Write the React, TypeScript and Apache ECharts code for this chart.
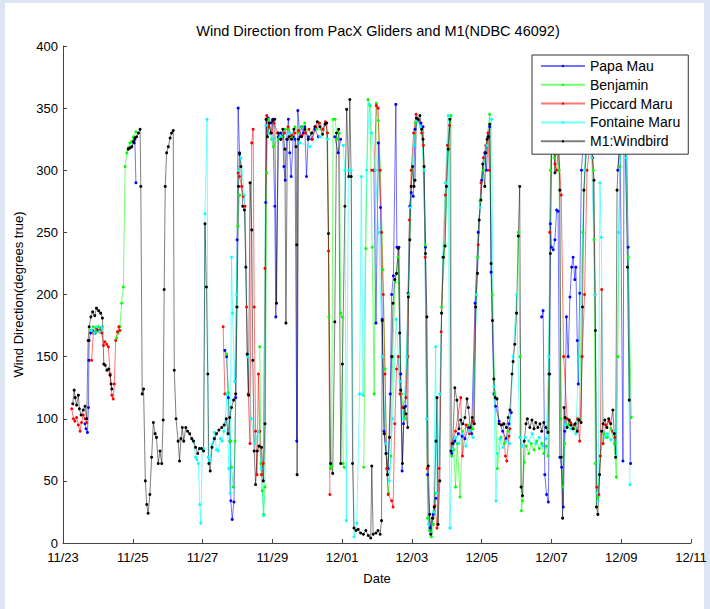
import React, { useEffect, useRef } from "react";
import * as echarts from "echarts";

// x = days since 11/23 00:00, y = wind direction (degrees true); null = gap
const xTickLabels = ["11/23", "11/25", "11/27", "11/29", "12/01", "12/03", "12/05", "12/07", "12/09", "12/11"];
const seriesNames = ["Papa Mau", "Benjamin", "Piccard Maru", "Fontaine Maru", "M1:Windbird"];
const seriesColors = ["#0000ff", "#00ff00", "#ff0000", "#00ffff", "#000000"];

type P = [number, number] | null;

const papaMau: P[] = [
  [0.63,96],[0.66,92],[0.70,89],[0.73,109],[0.74,147],[0.75,163],[0.79,169],[0.85,171],[0.92,169],[0.98,171],[1.04,170],[1.09,173], null,
  [2.04,322],[2.06,325],[2.09,290], null,
  [4.64,155],[4.69,150],[4.74,117],[4.79,82],[4.81,34],[4.85,19],[4.90,33],[4.95,117],[4.99,244],[5.02,350],[5.06,314], null,
  [5.81,274],[5.84,341],[5.88,342],[5.96,338],[6.01,341],[6.07,271],[6.10,182],[6.17,327],[6.24,330],[6.30,327],[6.33,303],[6.37,292],[6.41,325],[6.46,341],[6.50,314],[6.54,295],[6.60,327],[6.65,325],[6.70,82],[6.73,348],[6.79,327],[6.84,335],[6.89,330],[6.93,335],[6.98,295],[7.03,327],[7.13,325],[7.22,333],[7.32,327], null,
  [7.79,327],[7.89,314],[7.96,325], null,
  [8.91,300],[8.97,177],[9.04,322],[9.10,270],[9.15,180],[9.20,90],[9.26,72],[9.32,60],[9.38,120],[9.42,200],[9.47,215],[9.54,353],[9.57,238],[9.63,238],[9.68,136],[9.72,58],[9.76,96],[9.82,110],[9.89,201],[9.94,271],[9.98,282],[10.04,279],[10.09,333],[10.16,341],[10.26,338],[10.32,335],[10.39,238],[10.45,55],[10.52,12],[10.61,23],[10.69,36], null,
  [11.14,72],[11.23,82],[11.33,88],[11.44,86],[11.52,84],[11.62,93],[11.71,88],[11.81,193],[11.90,250],[12.00,292],[12.09,314],[12.14,300],[12.18,327],[12.23,335],[12.27,218],[12.35,120],[12.40,110],[12.50,98],[12.60,90],[12.70,84],[12.78,96],[12.85,105], null,
  [13.72,182],[13.76,187],[13.81,55],[13.86,39],[13.91,33],[13.95,136],[13.97,257],[14.00,238],[14.05,236],[14.10,244],[14.15,268],[14.19,267],[14.24,69],[14.29,61],[14.34,29],[14.38,90],[14.43,182],[14.48,150],[14.53,198],[14.58,222],[14.62,230],[14.67,212],[14.70,222],[14.74,163],[14.77,128],[14.81,201],[14.86,300],[14.93,330], null,
  [15.90,300],[15.97,320],[16.05,66],[16.08,320],[16.15,330],[16.20,238],[16.27,64],
];

const benjamin: P[] = [
  [0.79,171],[0.87,174],[0.95,170],[1.01,174],[1.08,171],[1.13,174], null,
  [1.54,165],[1.58,169],[1.63,174],[1.68,193],[1.73,206],[1.78,303],[1.83,314],[1.87,318],[1.92,322],[1.97,323],[2.02,327],[2.09,331], null,
  [4.69,152],[4.74,121],[4.79,82],[4.83,61],[4.88,45],[4.93,82],[4.97,190],[5.01,255],[5.06,280], null,
  [5.64,158],[5.67,64],[5.71,42],[5.75,23],[5.79,45],[5.84,298],[5.88,341],[5.98,325],[6.03,319],[6.17,325],[6.27,327],[6.36,333],[6.46,333],[6.55,327],[6.65,335],[6.75,330],[6.84,335],[6.93,338],[7.03,325],[7.13,330],[7.27,333],[7.44,333],[7.58,330],[7.62,182],[7.66,60],[7.70,62],[7.74,341],[7.80,341],[7.86,325],[7.92,330],[7.96,185],[8.00,182],[8.03,64],[8.06,61], null,
  [8.62,61],[8.68,237],[8.74,357],[8.80,352],[8.86,238],[8.92,120],[8.98,354],[9.04,340],[9.10,300],[9.17,220],[9.23,140],[9.28,60],[9.33,40],[9.40,70],[9.45,150],[9.52,210],[9.60,230],[9.70,120],[9.80,100],[9.90,200],[10.00,300],[10.10,338],[10.20,340],[10.30,330],[10.38,240],[10.45,20],[10.50,10],[10.56,5],[10.62,15],[10.68,40], null,
  [10.85,190],[10.95,240],[11.05,320],[11.12,344],[11.14,70],[11.20,75],[11.25,45],[11.30,80],[11.38,37],[11.45,90],[11.60,95],[11.75,92],[11.88,230],[11.95,275],[12.05,300],[12.15,325],[12.23,345],[12.30,200],[12.38,120],[12.45,60],[12.55,85],[12.65,80],[12.75,90], null,
  [13.05,250],[13.10,150],[13.14,26],[13.17,34],[13.22,65],[13.28,78],[13.35,72],[13.42,80],[13.50,75],[13.58,82],[13.65,76],[13.72,80],[13.78,72],[13.85,78],[13.90,70],[13.97,300],[14.02,330],[14.08,310],[14.15,315],[14.22,300],[14.27,100],[14.32,45],[14.38,80],[14.45,100],[14.50,95],[14.65,92],[14.80,100],[14.90,250],[14.98,320],[15.10,325],[15.20,300],[15.22,244],[15.26,64],[15.29,29],[15.33,37],[15.40,70],[15.50,88],[15.60,85],[15.70,92],[15.80,80],[15.86,53],[15.90,150],[15.96,303],[16.02,320],[16.10,325],[16.20,230],[16.29,101],
];

const piccardMaru: P[] = [
  [0.25,108],[0.30,100],[0.34,98],[0.39,101],[0.44,95],[0.49,90],[0.53,97],[0.58,103],[0.63,100],[0.68,97], null,
  [0.82,147],[0.87,169],[0.96,173],[1.04,171],[1.11,169],[1.16,159],[1.20,162],[1.25,160],[1.30,158],[1.35,136],[1.40,119],[1.44,116],[1.47,128],[1.51,163],[1.56,170],[1.60,174],[1.63,171], null,
  [4.59,174],[4.64,120], null,
  [5.02,298],[5.06,295],[5.12,287],[5.17,279],[5.22,271],[5.26,190],[5.31,120],[5.36,80],[5.41,322],[5.45,333],[5.48,190],[5.52,90],[5.56,55],[5.60,136],[5.64,90],[5.69,55],[5.74,64],[5.79,221],[5.84,344],[5.90,335],[5.98,330],[6.05,338],[6.15,330],[6.25,325],[6.35,330],[6.45,335],[6.55,328],[6.65,330],[6.75,332],[6.85,328],[6.95,330],[7.05,333],[7.15,325],[7.25,335],[7.35,338],[7.45,333],[7.52,339],[7.58,330],[7.61,235],[7.65,39], null,
  [8.85,300],[8.92,300],[8.98,352],[9.03,350],[9.08,300],[9.13,250],[9.18,200],[9.23,136],[9.28,60],[9.32,39],[9.42,34],[9.46,29],[9.51,96],[9.56,140],[9.61,150],[9.66,120],[9.73,109],[9.83,117],[9.88,150],[9.93,260],[9.98,300],[10.05,330],[10.12,345],[10.20,340],[10.28,330],[10.33,320],[10.38,230],[10.44,60],[10.49,15],[10.55,8],[10.60,20],[10.66,30],[10.72,12],[10.78,60],[10.84,170],[10.90,230],[10.96,280],[11.02,320],[11.08,336], null,
  [11.15,80],[11.25,90],[11.40,117],[11.45,70],[11.55,95],[11.65,88],[11.75,98],[11.82,190],[11.90,240],[11.98,290],[12.05,310],[12.12,320],[12.18,330],[12.22,300], null,
  [12.62,96],[12.68,70],[12.72,66],[12.78,86],[12.81,92], null,
  [13.95,250],[14.00,320],[14.05,338],[14.10,305],[14.15,300],[14.20,320],[14.28,280],[14.35,150],[14.45,100],[14.55,97],[14.65,95],[14.75,100],[14.81,82],[14.88,150],[14.95,200],[15.02,300],[15.10,320],[15.18,310],[15.25,200],[15.30,45],[15.36,39],[15.40,70],[15.44,204],[15.48,80],[15.55,95],[15.65,98],[15.75,90],[15.82,85],
];

const fontaineMaru: P[] = [
  [0.82,171],[0.89,169],[0.96,174],[1.04,170],[1.11,173], null,
  [3.74,82],[3.80,69],[3.84,67],[3.88,64],[3.92,31],[3.95,16],[3.99,75],[4.03,76],[4.07,265],[4.13,341],[4.16,69],[4.20,66],[4.27,79],[4.34,89],[4.40,75],[4.45,74],[4.51,84],[4.56,82],[4.61,90],[4.64,96],[4.70,120],[4.75,60],[4.79,40],[4.83,230],[4.86,185],[4.92,130],[4.97,200],[5.03,300],[5.10,310],[5.20,280],[5.30,150],[5.40,100],[5.50,80],[5.60,90],[5.68,60],[5.75,22],[5.81,336],[5.90,330],[6.00,325],[6.22,327],[6.50,330],[6.79,322],[7.08,319],[7.36,327],[7.58,325], null,
  [8.03,320],[8.08,300],[8.12,18],[8.18,300],[8.26,300],[8.34,5],[8.42,16],[8.50,120],[8.55,295],[8.60,119],[8.70,300],[8.78,353],[8.85,330],[8.95,300],[9.05,250],[9.15,150],[9.25,80],[9.35,50],[9.45,100],[9.55,180],[9.65,130],[9.75,100],[9.85,150],[9.95,270],[10.05,320],[10.15,340],[10.25,335],[10.35,300],[10.42,100],[10.48,15],[10.55,8],[10.62,25],[10.68,158],[10.72,40],[10.80,120],[10.88,230],[10.96,290],[11.04,344],[11.09,12],[11.15,75],[11.25,85],[11.35,80],[11.45,88],[11.55,78],[11.65,90],[11.75,85],[11.85,200],[11.95,270],[12.05,305],[12.15,320],[12.28,341],[12.35,126],[12.41,34],[12.45,72],[12.52,84],[12.61,77],[12.70,82],[12.80,80],[12.90,150],[13.00,200],[13.09,85],[13.15,78],[13.25,85],[13.35,82],[13.45,88],[13.55,80],[13.65,85],[13.75,78],[13.85,84],[13.92,150],[14.00,320], null,
  [14.40,95],[14.55,92],[14.70,88],[14.78,150],[14.95,300],[15.05,320],[15.15,310],[15.25,200],[15.30,40],[15.34,34],[15.39,290],[15.43,246],[15.48,90],[15.53,85],[15.60,88],[15.70,83],[15.80,90],[15.86,70],[15.92,250],[15.98,320],[16.05,330],[16.15,310],[16.25,47],
];

const windbird: P[] = [
  [0.28,112],[0.32,123],[0.35,117],[0.39,111],[0.44,119],[0.47,108],[0.52,103],[0.58,107],[0.63,110],[0.68,100],[0.72,163],[0.75,174],[0.80,182],[0.85,186],[0.91,183],[0.96,189],[1.02,187],[1.08,185],[1.13,181],[1.17,144],[1.21,143],[1.26,139],[1.31,140],[1.35,135],[1.38,128],[1.40,124], null,
  [1.87,317],[1.92,318],[1.97,319],[2.02,323],[2.06,326],[2.11,327],[2.16,330],[2.21,333],[2.23,287],[2.27,120],[2.31,124],[2.36,50],[2.40,31],[2.44,24],[2.49,39],[2.54,69],[2.59,97],[2.64,88],[2.68,85],[2.73,64],[2.78,74],[2.83,64],[2.87,99],[2.90,204],[2.93,287],[2.97,314],[3.02,319],[3.07,326],[3.11,330],[3.16,332],[3.19,139],[3.24,100],[3.30,82],[3.34,66],[3.38,84],[3.42,93],[3.46,82],[3.52,93],[3.57,90],[3.63,88],[3.69,84],[3.74,82],[3.80,77],[3.86,72],[3.91,76],[3.97,76],[4.03,74],[4.07,257],[4.11,206],[4.15,136],[4.18,64],[4.22,58],[4.27,77],[4.34,84],[4.40,88],[4.47,91],[4.55,93],[4.62,95],[4.68,100],[4.73,88],[4.78,101],[4.83,109],[4.89,115],[4.95,120],[4.99,190],[5.03,287],[5.06,313],[5.10,303],[5.15,271],[5.20,268],[5.24,222],[5.28,152],[5.32,119],[5.36,290],[5.41,252],[5.44,147],[5.48,74],[5.52,47],[5.57,74],[5.62,78],[5.69,77],[5.74,50],[5.79,96],[5.82,341],[5.86,327],[5.91,338],[5.96,330],[6.01,340],[6.07,341],[6.12,193],[6.17,330],[6.24,325],[6.30,333],[6.36,317],[6.39,177],[6.43,325],[6.48,327],[6.55,325],[6.62,333],[6.68,319],[6.70,240],[6.71,55],[6.75,325],[6.84,327],[6.93,333],[7.03,325],[7.13,330],[7.22,335],[7.29,339],[7.36,335],[7.44,329],[7.51,337],[7.56,338],[7.61,249],[7.67,64],[7.73,56],[7.79,178],[7.84,330],[7.90,333],[7.96,64],[8.01,144],[8.08,271],[8.13,349],[8.19,295],[8.22,357],[8.26,295],[8.30,64],[8.34,12],[8.40,10],[8.46,11],[8.53,8],[8.61,7],[8.68,10],[8.75,6],[8.82,4],[8.85,62],[8.89,7],[8.97,8],[9.03,10],[9.09,7],[9.13,18],[9.15,179],[9.21,88],[9.26,72],[9.30,55],[9.36,85],[9.42,150],[9.46,193],[9.51,212],[9.56,217],[9.61,237],[9.65,169],[9.68,123],[9.73,64],[9.78,109],[9.83,104],[9.88,93],[9.90,198],[9.94,244],[9.98,287],[10.02,303],[10.06,287],[10.09,292],[10.13,342],[10.18,341],[10.23,344],[10.28,333],[10.32,325],[10.35,303],[10.39,233],[10.43,182],[10.47,62],[10.51,23],[10.54,7],[10.59,20],[10.64,29],[10.69,82],[10.72,117],[10.75,15],[10.80,50],[10.85,185],[10.90,230],[10.95,239],[10.99,287],[11.04,317],[11.09,341],[11.12,74],[11.17,80],[11.23,125],[11.29,115],[11.35,92],[11.40,99],[11.46,96],[11.52,101],[11.58,116],[11.62,109],[11.67,93],[11.73,101],[11.79,96],[11.83,190],[11.88,217],[11.93,260],[11.98,276],[12.03,305],[12.09,287],[12.12,314],[12.16,325],[12.20,327],[12.23,337],[12.27,225],[12.31,179],[12.35,132],[12.39,117],[12.44,116],[12.50,96],[12.57,95],[12.64,96],[12.71,93],[12.76,101],[12.81,107],[12.87,136],[12.90,146],[12.95,160],[13.00,185],[13.05,247],[13.09,287],[13.13,45],[13.17,38],[13.22,82],[13.27,96],[13.31,100],[13.38,93],[13.44,99],[13.50,92],[13.55,97],[13.61,93],[13.67,96],[13.72,90],[13.78,97],[13.84,93],[13.90,89],[13.93,136],[13.97,233],[14.01,327],[14.05,341],[14.10,298],[14.15,345],[14.20,325],[14.24,284],[14.28,69],[14.32,20],[14.36,109],[14.39,101],[14.45,93],[14.51,99],[14.56,95],[14.62,92],[14.68,96],[14.74,90],[14.79,99],[14.85,97],[14.89,190],[14.93,284],[14.99,314],[15.05,317],[15.15,325],[15.22,292],[15.26,171],[15.29,29],[15.33,23],[15.38,55],[15.44,90],[15.48,96],[15.53,99],[15.59,93],[15.64,100],[15.70,96],[15.76,107],[15.80,88],[15.84,69],[15.88,284],[15.93,314],[15.99,325],[16.05,319],[16.12,317],[16.18,222],[16.23,115],
];

const allSeries = [papaMau, benjamin, piccardMaru, fontaineMaru, windbird];
const FONT = "'Liberation Sans', Arial, Helvetica, sans-serif";

export default function App() {
  const ref = useRef<HTMLDivElement>(null);
  useEffect(() => {
    if (!ref.current) return;
    const chart = echarts.init(ref.current, undefined, { renderer: "svg" });
    chart.setOption({
      animation: false,
      backgroundColor: "transparent",
      textStyle: { fontFamily: FONT },
      grid: { left: 63, right: 19, top: 46, bottom: 66, containLabel: false },
      graphic: [
        {
          type: "text",
          x: 378,
          y: 31,
          style: {
            text: "Wind Direction from PacX Gliders and M1(NDBC 46092)",
            font: `14.5px ${FONT}`,
            fill: "#000",
            align: "center",
            verticalAlign: "middle",
          },
        },
      ],
      legend: {
        orient: "vertical",
        left: 532,
        top: 55,
        itemWidth: 44,
        itemHeight: 3,
        itemGap: 4.8,
        padding: [4, 8, 6, 8],
        borderColor: "#333",
        borderWidth: 1,
        borderRadius: 0,
        backgroundColor: "#fff",
        textStyle: { fontSize: 14, color: "#000", fontFamily: FONT },
        data: seriesNames,
      },
      xAxis: {
        type: "value",
        min: 0,
        max: 18,
        interval: 2,
        name: "Date",
        nameLocation: "middle",
        nameGap: 29,
        nameTextStyle: { fontSize: 13, color: "#000", fontFamily: FONT },
        axisLine: { show: true, lineStyle: { color: "#444", width: 1 } },
        axisTick: { show: true, inside: true, length: 4, lineStyle: { color: "#444" } },
        axisLabel: {
          fontSize: 13,
          color: "#000",
          margin: 8,
          fontFamily: FONT,
          formatter: (v: number) => xTickLabels[Math.round(v / 2)] ?? "",
        },
        splitLine: { show: false },
      },
      yAxis: {
        type: "value",
        min: 0,
        max: 400,
        interval: 50,
        name: "Wind Direction(degrees true)",
        nameLocation: "middle",
        nameGap: 32,
        nameTextStyle: { fontSize: 13, color: "#000", fontFamily: FONT },
        axisLine: { show: true, lineStyle: { color: "#444", width: 1 } },
        axisTick: { show: true, inside: true, length: 4, lineStyle: { color: "#444" } },
        axisLabel: { fontSize: 13, color: "#000", margin: 5, fontFamily: FONT },
        splitLine: { show: false },
      },
      series: allSeries.map((arr, i) => ({
        name: seriesNames[i],
        type: "line",
        data: arr.map((p) => (p ? p : ["-", "-"])),
        connectNulls: false,
        symbol: "circle",
        symbolSize: 3,
        showSymbol: true,
        color: seriesColors[i],
        itemStyle: { color: seriesColors[i] },
        lineStyle: { color: seriesColors[i], width: 1, opacity: i === 4 ? 0.5 : 0.55 },
        emphasis: { disabled: true },
        clip: true,
      })),
    });
    return () => chart.dispose();
  }, []);

  return (
    <div style={{ position: "absolute", left: 0, top: 0, width: 710, height: 609, background: "#dce6f2", overflow: "hidden" }}>
      <div style={{ position: "absolute", left: 5, top: 3, width: 699, height: 606, background: "#fff" }} />
      <div ref={ref} style={{ position: "absolute", left: 0, top: 0, width: 710, height: 609 }} />
    </div>
  );
}
